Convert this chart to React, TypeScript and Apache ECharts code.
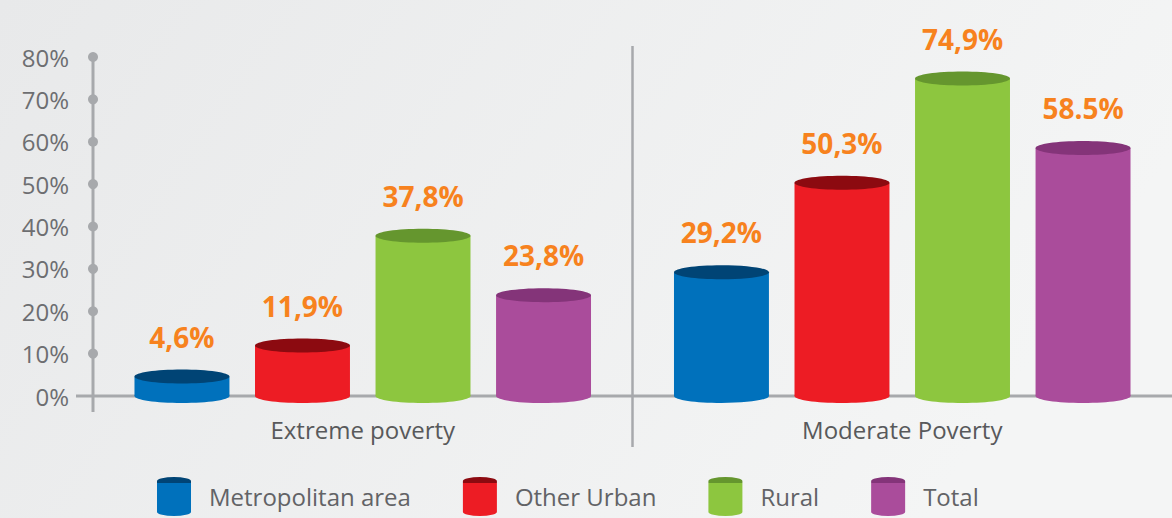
import React, { useEffect, useRef } from "react";
import * as echarts from "echarts";

const categories = ["Extreme poverty", "Moderate Poverty"];
const seriesNames = ["Metropolitan area", "Other Urban", "Rural", "Total"];
const metropolitan = [4.6, 29.2];
const otherUrban = [11.9, 50.3];
const rural = [37.8, 74.9];
const total = [23.8, 58.5];
const metropolitanLabels = ["4,6%", "29,2%"];
const otherUrbanLabels = ["11,9%", "50,3%"];
const ruralLabels = ["37,8%", "74,9%"];
const totalLabels = ["23,8%", "58.5%"];
const yTicks = [10, 20, 30, 40, 50, 60, 70, 80];

const seriesValues = [metropolitan, otherUrban, rural, total];
const seriesLabels = [metropolitanLabels, otherUrbanLabels, ruralLabels, totalLabels];
const bodyColors = ["#0071BC", "#ED1C24", "#8DC63F", "#AA4C9B"];
const topColors = ["#004475", "#8C0A10", "#65962E", "#843479"];
const axisGray = "#A7A9AC";
const labelOrange = "#F7821E";

export default function App() {
  const ref = useRef<HTMLDivElement>(null);
  useEffect(() => {
    if (!ref.current) return;
    const chart = echarts.init(ref.current, null, { renderer: "svg" });

    const barSeries = seriesNames.map((name, si) => ({
      type: "custom",
      name,
      clip: false,
      z: 3,
      itemStyle: { color: bodyColors[si] },
      encode: { x: 0, y: 1 },
      data: seriesValues[si].map((v, i) => [i, v]),
      renderItem: (params: any, api: any) => {
        const cat = api.value(0);
        const v = api.value(1);
        const top = api.coord([cat, v]);
        const base = api.coord([cat, 0]);
        const band = api.size([1, 0])[0];
        const cx = top[0] + (si - 1.5) * band * 0.2234;
        const w = band * 0.176;
        const rx = w / 2;
        const ry = 7;
        return {
          type: "group",
          children: [
            { type: "ellipse", shape: { cx, cy: base[1], rx, ry }, style: { fill: bodyColors[si] } },
            { type: "rect", shape: { x: cx - rx, y: top[1], width: w, height: base[1] - top[1] }, style: { fill: bodyColors[si] } },
            { type: "ellipse", shape: { cx, cy: top[1], rx, ry }, style: { fill: topColors[si] } },
            {
              type: "text",
              style: {
                text: seriesLabels[si][params.dataIndex],
                x: cx,
                y: top[1] - 40,
                align: "center",
                verticalAlign: "middle",
                fill: labelOrange,
                fontSize: 28,
                fontWeight: "bold",
                fontFamily: "Open Sans",
              },
            },
          ],
        };
      },
    }));

    const frameSeries = {
      type: "custom",
      name: "frame",
      clip: false,
      z: 1,
      silent: true,
      encode: { x: 0, y: 1 },
      data: [[0, 0]],
      renderItem: (params: any, api: any) => {
        const cs = params.coordSys;
        const gx = cs.x, gy = cs.y, gw = cs.width, gh = cs.height;
        const lineStyle = { stroke: axisGray, lineWidth: 3 };
        return {
          type: "group",
          children: [
            { type: "line", shape: { x1: gx, y1: gy - 1, x2: gx, y2: gy + gh + 16 }, style: lineStyle },
            { type: "line", shape: { x1: gx - 17, y1: gy + gh, x2: gx + gw, y2: gy + gh }, style: lineStyle },
            { type: "line", shape: { x1: gx + gw / 2, y1: gy - 11, x2: gx + gw / 2, y2: gy + gh + 51 }, style: { stroke: axisGray, lineWidth: 2.5 } },
          ],
        };
      },
    };

    const dotSeries = {
      type: "custom",
      name: "ticks",
      clip: false,
      z: 2,
      silent: true,
      encode: { x: 0, y: 1 },
      data: yTicks.map((t) => [0, t]),
      renderItem: (params: any, api: any) => {
        const cs = params.coordSys;
        const p = api.coord([0, api.value(1)]);
        return { type: "circle", shape: { cx: cs.x, cy: p[1], r: 5 }, style: { fill: axisGray } };
      },
    };

    const legendGradient = (si: number) => ({
      type: "linear",
      x: 0,
      y: 0,
      x2: 0,
      y2: 1,
      colorStops: [
        { offset: 0, color: topColors[si] },
        { offset: 0.15, color: topColors[si] },
        { offset: 0.16, color: bodyColors[si] },
        { offset: 1, color: bodyColors[si] },
      ],
    });

    chart.setOption({
      animation: false,
      backgroundColor: {
        type: "linear",
        x: 0,
        y: 0,
        x2: 1,
        y2: 0.3,
        colorStops: [
          { offset: 0, color: "#E8E9EA" },
          { offset: 1, color: "#F4F5F5" },
        ],
      },
      grid: { left: 93, right: 0, top: 57, bottom: 122, containLabel: false },
      xAxis: {
        type: "category",
        data: categories,
        boundaryGap: true,
        axisLine: { show: false },
        axisTick: { show: false },
        splitLine: { show: false },
        axisLabel: { fontSize: 24, color: "#58595B", margin: 21, fontFamily: "Open Sans" },
      },
      yAxis: {
        type: "value",
        min: 0,
        max: 80,
        interval: 10,
        axisLine: { show: false },
        axisTick: { show: false },
        splitLine: { show: false },
        axisLabel: { fontSize: 24, color: "#6D6E71", margin: 24, formatter: "{value}%", fontFamily: "Open Sans" },
      },
      legend: {
        data: seriesNames.map((name, si) => ({ name, itemStyle: { color: legendGradient(si) } })),
        left: 152,
        top: 472,
        itemWidth: 34,
        itemHeight: 39,
        itemGap: 52,
        icon: "path://M0,4 A17,4 0 0 1 34,4 L34,35 A17,4 0 0 1 0,35 Z",
        selectedMode: false,
        textStyle: { fontSize: 24, color: "#626366", fontFamily: "Open Sans", padding: [0, 0, 0, 13] },
      },
      series: [frameSeries, dotSeries, ...barSeries],
    });

    return () => chart.dispose();
  }, []);

  return <div ref={ref} style={{ position: "fixed", left: 0, top: 0, width: 1172, height: 518 }} />;
}
